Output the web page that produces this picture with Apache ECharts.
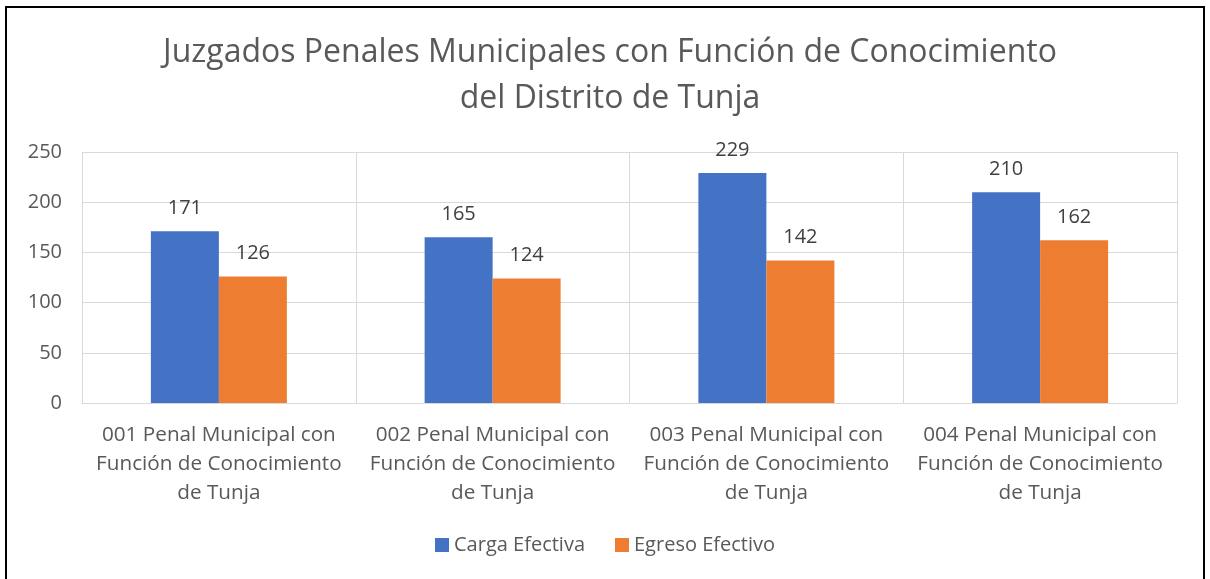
<!DOCTYPE html>
<html>
<head>
<meta charset="utf-8">
<script src="https://cdn.jsdelivr.net/npm/echarts@6/dist/echarts.min.js"></script>
<style>
html, body { margin: 0; padding: 0; background: #fff; }
#chart { width: 1210px; height: 579px; }
</style>
</head>
<body>
<div id="chart"></div>
<script>
var categories = [
	'001 Penal Municipal con\nFunción de Conocimiento\nde Tunja',
	'002 Penal Municipal con\nFunción de Conocimiento\nde Tunja',
	'003 Penal Municipal con\nFunción de Conocimiento\nde Tunja',
	'004 Penal Municipal con\nFunción de Conocimiento\nde Tunja'
];
var cargaEfectiva = [171, 165, 229, 210];
var egresoEfectivo = [126, 124, 142, 162];
var seriesNames = ['Carga Efectiva', 'Egreso Efectivo'];

var fontFam = '"Open Sans", sans-serif';
var chart = echarts.init(document.getElementById('chart'));
var option = {
	color: ['#4472c4', '#ed7d31'],
	animation: false,
	textStyle: { fontFamily: fontFam },
	title: {
		text: 'Juzgados Penales Municipales con Función de Conocimiento\ndel Distrito de Tunja',
		left: 605,
		top: 25,
		textAlign: 'center',
		textStyle: {
			fontFamily: fontFam,
			fontSize: 32,
			fontWeight: 'normal',
			color: '#595959',
			lineHeight: 46
		}
	},
	legend: {
		bottom: 19,
		left: 'center',
		itemWidth: 14,
		itemHeight: 14,
		itemGap: 30,
		icon: 'rect',
		textStyle: { fontSize: 20, color: '#595959', fontFamily: fontFam },
		data: seriesNames
	},
	// borde del grafico
	graphic: [{
		type: 'rect',
		shape: { x: 6, y: 7, width: 1198, height: 600 },
		style: { fill: 'none', stroke: '#000', lineWidth: 2 }
	}],
	grid: {
		left: 82,
		right: 33,
		top: 152,
		bottom: 176
	},
	xAxis: {
		type: 'category',
		data: categories,
		axisLine: { show: true, lineStyle: { color: '#d9d9d9' } },
		axisTick: { show: false },
		splitLine: { show: true, lineStyle: { color: '#d9d9d9', width: 1 } },
		axisLabel: {
			color: '#595959',
			fontSize: 20.7,
			lineHeight: 28.7,
			margin: 18,
			interval: 0,
			fontFamily: fontFam
		}
	},
	yAxis: {
		type: 'value',
		min: 0,
		max: 250,
		interval: 50,
		axisLine: { show: false },
		axisTick: { show: false },
		splitLine: { lineStyle: { color: '#d9d9d9', width: 1 } },
		axisLabel: {
			color: '#595959',
			fontSize: 20,
			margin: 20,
			fontFamily: fontFam
		}
	},
	series: [{
		name: seriesNames[0],
		type: 'bar',
		barWidth: 68,
		barGap: '0%',
		data: cargaEfectiva,
		label: { show: true, position: 'top', distance: 13, fontSize: 20, color: '#404040', fontFamily: fontFam }
	}, {
		name: seriesNames[1],
		type: 'bar',
		barWidth: 68,
		barGap: '0%',
		data: egresoEfectivo,
		label: { show: true, position: 'top', distance: 13, fontSize: 20, color: '#404040', fontFamily: fontFam }
	}]
};
chart.setOption(option);
</script>
</body>
</html>
